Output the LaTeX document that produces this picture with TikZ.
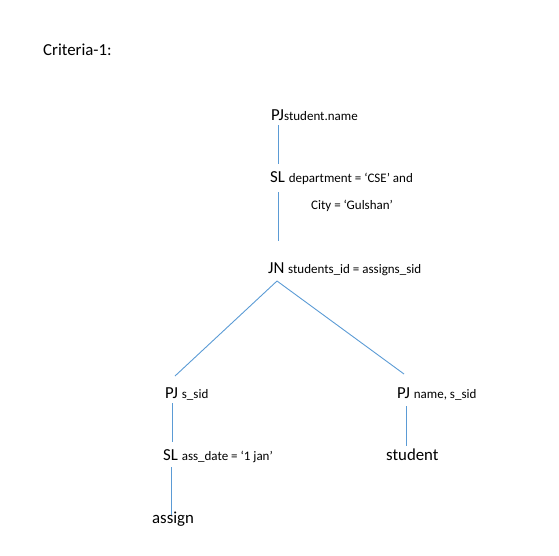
\documentclass[tikz,border=0pt]{standalone}
\usepackage{fontspec}
\setmainfont{Carlito}
\usepackage{xcolor}
\definecolor{officeblue}{RGB}{91,155,213}
\newcommand{\cond}[1]{{\fontsize{13}{15.6}\selectfont #1}}
\tikzset{
  opnode/.style={anchor=base west, inner sep=0pt, font=\fontsize{16.8}{20}\selectfont},
  link/.style={draw=officeblue, line width=0.9pt}
}

\begin{document}
\begin{tikzpicture}[x=1pt, y=-1pt]

\useasboundingbox (0,0) rectangle (559,555);

\node[opnode] (crit) at (43,55) {Criteria-1:};

\node[opnode] (pjtop) at (271,120) {PJ\cond{student.name}};
\node[opnode] (sltop) at (270,182) {SL \cond{department = `CSE' and}};
\node[opnode] (city) at (311,209) {\cond{City = `Gulshan'}};
\node[opnode] (jn) at (268,273) {JN \cond{students\_id = assigns\_sid}};

\node[opnode] (pjl) at (165,398) {PJ \cond{s\_sid}};
\node[opnode] (pjr) at (397,398) {PJ \cond{name, s\_sid}};
\node[opnode] (sll) at (163,460) {SL \cond{ass\_date = `1 jan'}};
\node[opnode] (student) at (386,460) {student};
\node[opnode] (assign) at (152,523) {assign};

\draw[link] ([shift={(7,5)}]pjtop.base west) -- ([shift={(8,-18)}]sltop.base west);
\draw[link] ([shift={(8,10)}]sltop.base west) -- ([shift={(10,-32)}]jn.base west);
\draw[link] ([shift={(9,8)}]jn.base west) -- ([shift={(10,-22)}]pjl.base west);
\draw[link] ([shift={(9,8)}]jn.base west) -- ([shift={(7,-24)}]pjr.base west);
\draw[link] ([shift={(7,5)}]pjl.base west) -- ([shift={(9,-18)}]sll.base west);
\draw[link] ([shift={(8,7)}]sll.base west) -- ([shift={(19,-8)}]assign.base west);
\draw[link] ([shift={(9,8)}]pjr.base west) -- ([shift={(20,-14)}]student.base west);

\end{tikzpicture}
\end{document}
